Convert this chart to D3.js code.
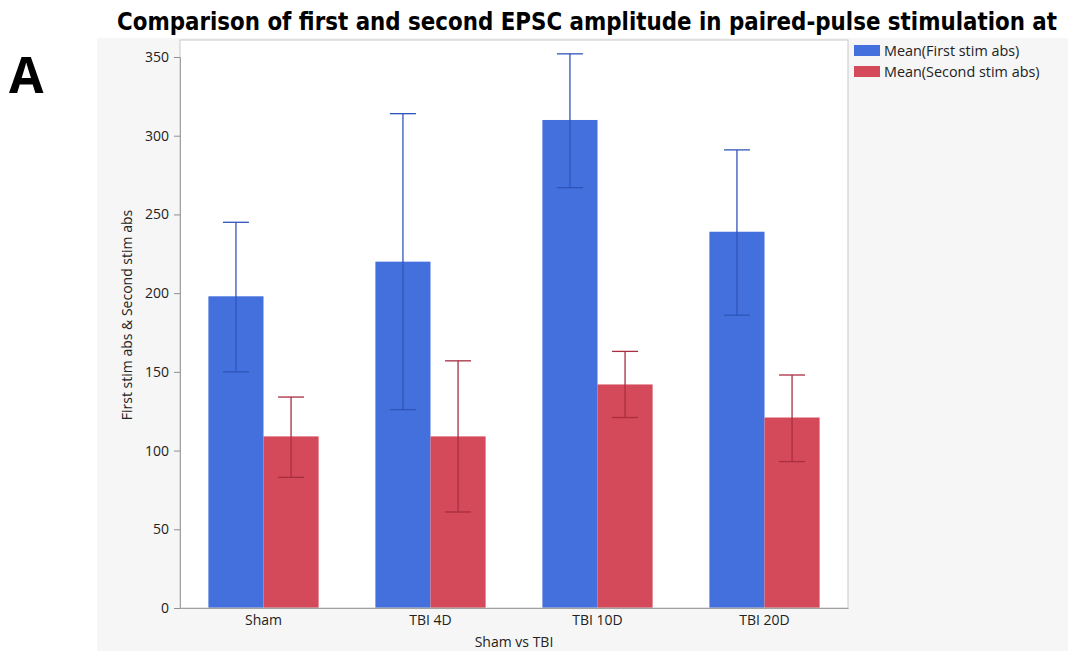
<!DOCTYPE html>
<html><head><meta charset="utf-8">
<script src="https://cdn.jsdelivr.net/npm/d3@7"></script>
<style>body{margin:0;background:#fff;}svg{display:block;}</style>
</head><body>
<svg id="c" width="1068" height="651"></svg>
<script>
const categories = ["Sham", "TBI 4D", "TBI 10D", "TBI 20D"];
const series = ["Mean(First stim abs)", "Mean(Second stim abs)"];
const firstMean = [198, 220, 310, 239];
const firstHigh = [245, 314, 352, 291];
const firstLow = [150, 126, 267, 186];
const secondMean = [109, 109, 142, 121];
const secondHigh = [134, 157, 163, 148];
const secondLow = [83, 61, 121, 93];
const yTicks = [0, 50, 100, 150, 200, 250, 300, 350];

const colors = ["#4470dd", "#d44a5a"];
const errColors = ["#2f55b8", "#a82e40"];
const FONT = "Open Sans, sans-serif";

const svg = d3.select("#c");
const L = 180, R = 848, T = 40, B = 608;

svg.append("rect").attr("x", 97).attr("y", 38).attr("width", 971).attr("height", 613).attr("fill", "#f6f6f6");
svg.append("rect").attr("x", L).attr("y", T).attr("width", R - L).attr("height", B - T).attr("fill", "#fff");

const x = d3.scaleBand().domain(categories).range([L, R]).paddingInner(0.34).paddingOuter(0.17);
const x1 = d3.scaleBand().domain([0, 1]).range([0, x.bandwidth()]);
const y = d3.scaleLinear().domain([0, 350]).range([B, B - 551]);

const data = [];
categories.forEach((c, i) => {
  data.push({c, s: 0, m: firstMean[i], hi: firstHigh[i], lo: firstLow[i]});
  data.push({c, s: 1, m: secondMean[i], hi: secondHigh[i], lo: secondLow[i]});
});

svg.append("g").selectAll("rect").data(data).join("rect")
  .attr("x", d => x(d.c) + x1(d.s))
  .attr("width", x1.bandwidth())
  .attr("y", d => y(d.m))
  .attr("height", d => y(0) - y(d.m))
  .attr("fill", d => colors[d.s]);

const eg = svg.append("g").attr("stroke-width", 1.3);
data.forEach(d => {
  const cx = x(d.c) + x1(d.s) + x1.bandwidth() / 2;
  const col = errColors[d.s];
  eg.append("line").attr("x1", cx).attr("x2", cx).attr("y1", y(d.hi)).attr("y2", y(d.lo)).attr("stroke", col);
  [d.hi, d.lo].forEach(v => eg.append("line").attr("x1", cx - 13).attr("x2", cx + 13).attr("y1", y(v)).attr("y2", y(v)).attr("stroke", col));
});

svg.append("rect").attr("x", L).attr("y", T).attr("width", R - L).attr("height", B - T)
  .attr("fill", "none").attr("stroke", "#c8c8c8").attr("stroke-width", 1);

const yAxis = svg.append("g").attr("transform", `translate(${L},0)`)
  .call(d3.axisLeft(y).tickValues(yTicks).tickSize(6).tickPadding(5).tickFormat(d3.format("d")));
yAxis.select(".domain").attr("stroke", "#a0a0a0");
yAxis.selectAll(".tick line").attr("stroke", "#909090");
yAxis.selectAll("text").attr("font-family", FONT).attr("font-size", 14).attr("fill", "#222");

const xAxis = svg.append("g").attr("transform", `translate(0,${B})`)
  .call(d3.axisBottom(x).tickSize(0).tickPadding(7));
xAxis.select(".domain").attr("stroke", "#a0a0a0");
xAxis.selectAll("text").attr("font-family", FONT).attr("font-size", 14).attr("fill", "#222");

svg.append("text").attr("x", 514).attr("y", 647).attr("text-anchor", "middle")
  .attr("font-family", FONT).attr("font-size", 14).attr("fill", "#222").text("Sham vs TBI");
svg.append("text").attr("transform", "translate(132,315) rotate(-90)").attr("text-anchor", "middle")
  .attr("font-family", FONT).attr("font-size", 14).attr("fill", "#222").text("First stim abs & Second stim abs");

svg.append("text").attr("x", 587).attr("y", 30).attr("text-anchor", "middle")
  .attr("font-family", "DejaVu Sans Condensed, Open Sans, sans-serif").attr("font-weight", "bold").attr("font-size", 24)
  .attr("textLength", 940).attr("lengthAdjust", "spacingAndGlyphs").attr("fill", "#000")
  .text("Comparison of first and second EPSC amplitude in paired-pulse stimulation at");
svg.append("text").attr("x", 9).attr("y", 93)
  .attr("font-family", FONT).attr("font-weight", "bold").attr("font-size", 50).attr("fill", "#000").text("A");

const lg = svg.append("g");
series.forEach((s, i) => {
  lg.append("rect").attr("x", 854).attr("y", 45 + i * 21).attr("width", 26).attr("height", 11).attr("fill", colors[i]);
  lg.append("text").attr("x", 884).attr("y", 56 + i * 21).attr("font-family", FONT)
    .attr("font-size", 14.4).attr("fill", "#222").text(s);
});
</script>
</body></html>
